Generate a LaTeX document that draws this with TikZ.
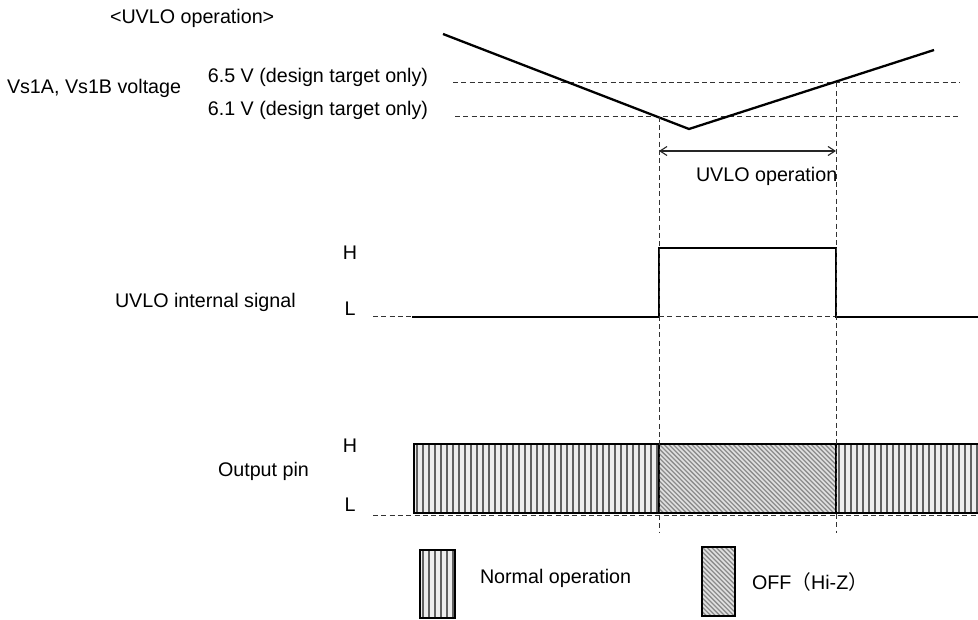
\documentclass[tikz,border=0pt]{standalone}
\usepackage{fontspec}
\setmainfont{Liberation Sans}
\newfontfamily\cjkfont{Noto Sans CJK JP}
\usetikzlibrary{arrows.meta}

\tikzset{
  lbl/.style={font=\fontsize{19.7}{23}\selectfont, inner sep=0pt, outer sep=0pt},
  wave/.style={line width=2pt, line join=miter, line cap=rect},
  guide/.style={dash pattern=on 5pt off 3.3pt, line width=1pt, black!80},
  boxline/.style={line width=2.2pt},
  stripe/.style={line width=1.7pt, black!62},
  hatchline/.style={line width=1.3pt, black!45},
  dimarrow/.style={line width=1.1pt, black!85, {Straight Barb[length=7pt,width=9pt]}-{Straight Barb[length=7pt,width=9pt]}},
}

% vertical stripes in a rectangle: x0,y0,x1,y1
\newcommand\vstripes[4]{%
  \begin{scope}
    \clip (#1,#2) rectangle (#3,#4);
    \fill[black!7] (#1,#2) rectangle (#3,#4);
    \pgfmathtruncatemacro\myN{(#3-#1)/6}
    \foreach \i in {0,...,\myN}{%
      \pgfmathsetmacro\myX{#1+3+6*\i}
      \draw[stripe] (\myX,#2) -- (\myX,#4);
    }
  \end{scope}}

% diagonal hatch in a rectangle: x0,y0,x1,y1
\newcommand\dhatch[4]{%
  \begin{scope}
    \clip (#1,#2) rectangle (#3,#4);
    \fill[black!12] (#1,#2) rectangle (#3,#4);
    \pgfmathsetmacro\myH{#4-#2}
    \pgfmathtruncatemacro\myN{(#3-#1+\myH)/4.6}
    \foreach \i in {0,...,\myN}{%
      \pgfmathsetmacro\myX{#1-\myH+4.6*\i}
      \draw[hatchline] (\myX,#2) -- ++(\myH,\myH);
    }
  \end{scope}}

\begin{document}
\begin{tikzpicture}[x=1pt,y=-1pt]
\useasboundingbox (0,0) rectangle (978,620);

% ---------- titles and labels ----------
\node[lbl, anchor=west] (title) at (110,18) {<UVLO operation>};
\node[lbl, anchor=west] (vlabel) at (7,88) {Vs1A, Vs1B voltage};
\node[lbl, anchor=east] (t65) at (428,77) {6.5 V (design target only)};
\node[lbl, anchor=east] (t61) at (428,110) {6.1 V (design target only)};

% ---------- voltage curve ----------
\coordinate (va) at (443,34);
\coordinate (vb) at (689,129);
\coordinate (vc) at (934,50);
\coordinate (g65a) at (453,82.5);
\coordinate (g65b) at (960,82.5);
\coordinate (g61a) at (455,116.7);
\coordinate (g61b) at (960,116.7);
\draw[guide] (g65a) -- (g65b);
\draw[guide] (g61a) -- (g61b);
\draw[line width=2.3pt] (va) -- (vb) -- (vc);

% ---------- vertical guides ----------
\coordinate (x1top) at (659,116.7);
\coordinate (x1bot) at (659,533);
\coordinate (x2top) at (836,82.5);
\coordinate (x2bot) at (836,533);

% ---------- UVLO operation span ----------
\coordinate (arl) at (659,151);
\coordinate (arr) at (836,151);
\draw[dimarrow] (arl) -- (arr);
\node[lbl, anchor=west] (uvop) at (696,176) {UVLO operation};

% ---------- internal signal ----------
\node[lbl] (sH) at (350,253) {H};
\node[lbl] (sL) at (350,309) {L};
\node[lbl, anchor=west] (sname) at (115,302) {UVLO internal signal};
\coordinate (s0) at (373,317);
\coordinate (s1) at (413,317);
\coordinate (s2) at (659,317);
\coordinate (s3) at (659,248);
\coordinate (s4) at (836,248);
\coordinate (s5) at (836,317);
\coordinate (s6) at (980,317);
\draw[guide] (s0) -- (s1);
\draw[guide] (s2) -- (s5);
\draw[wave] (s1) -- (s2) -- (s3) -- (s4) -- (s5) -- (s6);

% ---------- output pin ----------
\node[lbl] (oH) at (350,446) {H};
\node[lbl] (oL) at (350,505) {L};
\node[lbl, anchor=west] (oname) at (218,471) {Output pin};
\coordinate (o0) at (373,515.5);
\coordinate (o1) at (978,515.5);
\draw[guide] (o0) -- (o1);
\vstripes{414}{444}{659}{513}
\dhatch{659}{444}{836}{513}
\vstripes{836}{444}{980}{513}
\coordinate (ob1) at (414,444);
\coordinate (ob2) at (982,513);
\draw[boxline] (ob1) rectangle (ob2);
\coordinate (d1t) at (659,444);
\coordinate (d1b) at (659,513);
\coordinate (d2t) at (836,444);
\coordinate (d2b) at (836,513);
\draw[boxline] (d1t) -- (d1b);
\draw[boxline] (d2t) -- (d2b);

\draw[guide] (x1top) -- (x1bot);
\draw[guide] (x2top) -- (x2bot);

% ---------- legend ----------
\vstripes{420}{550}{455}{618}
\coordinate (lg1a) at (420,550);
\coordinate (lg1b) at (455,618);
\draw[boxline] (lg1a) rectangle (lg1b);
\node[lbl, anchor=west] (lgt1) at (480,578) {Normal operation};

\dhatch{702}{547}{735}{616}
\coordinate (lg2a) at (702,547);
\coordinate (lg2b) at (735,616);
\draw[boxline] (lg2a) rectangle (lg2b);
\node[lbl, anchor=west] (lgt2) at (752,582) {OFF{\cjkfont （}Hi-Z{\cjkfont ）}};

\end{tikzpicture}
\end{document}
